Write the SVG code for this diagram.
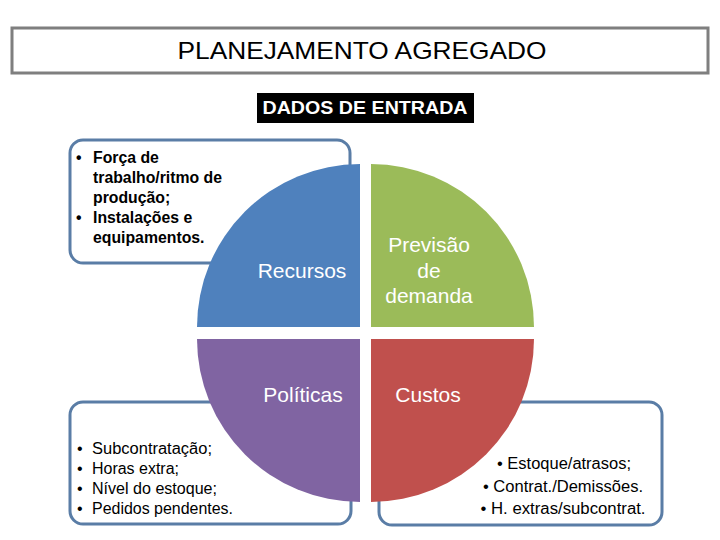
<svg xmlns="http://www.w3.org/2000/svg" width="720" height="540" viewBox="0 0 720 540">
<style>
.box{fill:#fff;stroke:#5A7DA6;stroke-width:3}
.qt{font-family:"Liberation Sans",Arial,sans-serif;font-size:21px;fill:#fff;text-anchor:middle}
.bt{font-family:"Liberation Sans",Arial,sans-serif;font-size:16px;fill:#000}
.btb{font-family:"Liberation Sans",Arial,sans-serif;font-size:15.8px;font-weight:bold;fill:#000}
</style>
<rect width="720" height="540" fill="#fff"/>
<g id="title">
<rect x="12" y="28" width="696" height="45" fill="#fff" stroke="#7F7F7F" stroke-width="3"/>
<text x="362" y="59" font-family="Liberation Sans,Arial,sans-serif" font-size="24" textLength="369" lengthAdjust="spacingAndGlyphs" text-anchor="middle" fill="#000">PLANEJAMENTO AGREGADO</text>
</g>
<g id="dados">
<rect x="257" y="93" width="217" height="30" fill="#000"/>
<text x="365" y="114" font-family="Liberation Sans,Arial,sans-serif" font-size="18.5" font-weight="bold" textLength="205" lengthAdjust="spacingAndGlyphs" text-anchor="middle" fill="#fff">DADOS DE ENTRADA</text>
</g>
<g id="box-recursos">
<rect class="box" x="70" y="140" width="280" height="123" rx="13"/>
<text class="btb" x="76" y="163">•</text>
<text class="btb" x="93" y="163">Força de</text>
<text class="btb" x="93" y="183">trabalho/ritmo de</text>
<text class="btb" x="93" y="203">produção;</text>
<text class="btb" x="76" y="223">•</text>
<text class="btb" x="93" y="223">Instalações e</text>
<text class="btb" x="93" y="243">equipamentos.</text>
</g>
<g id="box-politicas">
<rect class="box" x="70" y="402" width="281" height="122" rx="13"/>
<text class="bt" x="77" y="454">•</text>
<text class="bt" x="92" y="454" textLength="120" lengthAdjust="spacingAndGlyphs">Subcontratação;</text>
<text class="bt" x="77" y="474">•</text>
<text class="bt" x="92" y="474" textLength="87" lengthAdjust="spacingAndGlyphs">Horas extra;</text>
<text class="bt" x="77" y="494">•</text>
<text class="bt" x="92" y="494" textLength="125" lengthAdjust="spacingAndGlyphs">Nível do estoque;</text>
<text class="bt" x="77" y="514">•</text>
<text class="bt" x="92" y="514" textLength="141" lengthAdjust="spacingAndGlyphs">Pedidos pendentes.</text>
</g>
<g id="box-custos">
<rect class="box" x="379" y="402" width="283" height="123" rx="13"/>
<text class="bt" x="564" y="469" text-anchor="middle" textLength="134" lengthAdjust="spacingAndGlyphs">• Estoque/atrasos;</text>
<text class="bt" x="563" y="492" text-anchor="middle" textLength="160" lengthAdjust="spacingAndGlyphs">• Contrat./Demissões.</text>
<text class="bt" x="563" y="514" text-anchor="middle" textLength="165" lengthAdjust="spacingAndGlyphs">• H. extras/subcontrat.</text>
</g>
<g id="recursos">
<path d="M360,327 L197,327 A163,163 0 0 1 360,164 Z" fill="#4F81BD"/>
<text class="qt" x="302" y="278">Recursos</text>
</g>
<g id="previsao">
<path d="M371,327 L371,164 A163,163 0 0 1 534,327 Z" fill="#9BBB59"/>
<text class="qt" x="429" y="252">Previsão</text>
<text class="qt" x="429" y="278">de</text>
<text class="qt" x="429" y="303">demanda</text>
</g>
<g id="politicas">
<path d="M360,339 L360,502 A163,163 0 0 1 197,339 Z" fill="#8064A2"/>
<text class="qt" x="303" y="402">Políticas</text>
</g>
<g id="custos">
<path d="M371,339 L534,339 A163,163 0 0 1 371,502 Z" fill="#C0504D"/>
<text class="qt" x="428" y="402">Custos</text>
</g>
<g id="connectors"></g>
</svg>
